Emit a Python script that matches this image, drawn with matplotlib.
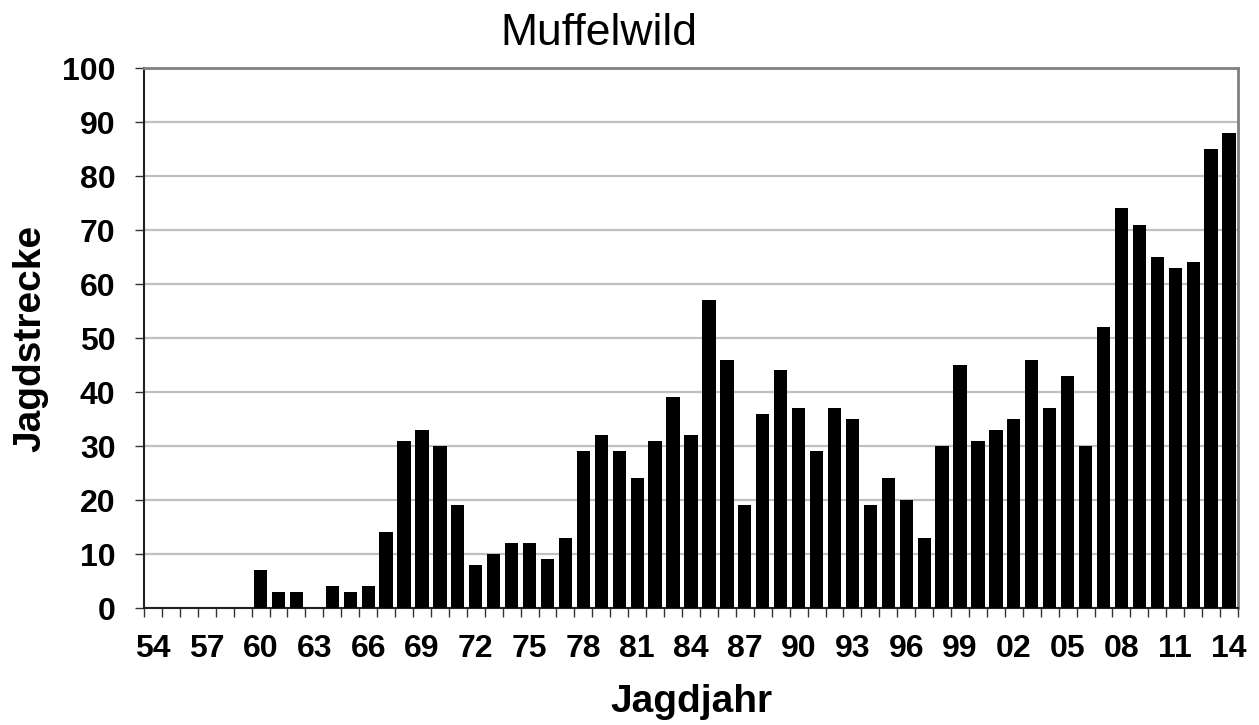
import matplotlib
matplotlib.use("Agg")
from matplotlib import pyplot as plt
import numpy as np

plt.rcParams['font.family'] = ['Liberation Sans', 'DejaVu Sans']

# Jagdjahre 1954 - 2014
years = list(range(1954, 2015))
strecke = [0, 0, 0, 0, 0, 0,
           7, 3, 3, 0, 4, 3, 4, 14, 31, 33,
           30, 19, 8, 10, 12, 12, 9, 13, 29, 32,
           29, 24, 31, 39, 32, 57, 46, 19, 36, 44,
           37, 29, 37, 35, 19, 24, 20, 13, 30, 45,
           31, 33, 35, 46, 37, 43, 30, 52, 74, 71,
           65, 63, 64, 85, 88]
tick_labels = [f"{y % 100:02d}" for y in years[::3]]

x = np.arange(len(years))

fig = plt.figure(figsize=(12.59, 7.25), dpi=100)
ax = fig.add_axes([144/1259, 1 - 608/725, (1238-144)/1259, (608-68)/725])

ax.bar(x, strecke, width=0.74, color='black', zorder=3)

ax.set_xlim(-0.5, len(years) - 0.5)
ax.set_ylim(0, 100)
ax.set_yticks(range(0, 101, 10))
ax.yaxis.grid(True, color='#c0c0c0', linewidth=1.6, zorder=0)

ax.set_xticks(x[::3])
ax.set_xticklabels(tick_labels)
ax.set_xticks(np.arange(-0.5, len(years)), minor=True)
ax.tick_params(axis='x', which='major', length=0, pad=19, labelsize=23)
ax.tick_params(axis='x', which='minor', length=6.5, width=1.0, color='#333333')
ax.tick_params(axis='y', length=6.5, width=1.0, color='#333333', labelsize=23, pad=14)
for lbl in ax.get_xticklabels() + ax.get_yticklabels():
    lbl.set_fontweight('bold')

for s in ['top', 'right']:
    ax.spines[s].set_color('#808080')
    ax.spines[s].set_linewidth(2)
for s in ['left', 'bottom']:
    ax.spines[s].set_color('#222222')
    ax.spines[s].set_linewidth(1.5)

# Titel wie im Original etwas links von der Mitte
fig.text(599/1259, 1 - 45/725, 'Muffelwild', fontsize=32, ha='center', va='baseline')
ax.set_xlabel('Jagdjahr', fontsize=28, fontweight='bold', labelpad=14)
ax.set_ylabel('Jagdstrecke', fontsize=28, fontweight='bold', labelpad=10)

fig.savefig('out.png', dpi=100)
